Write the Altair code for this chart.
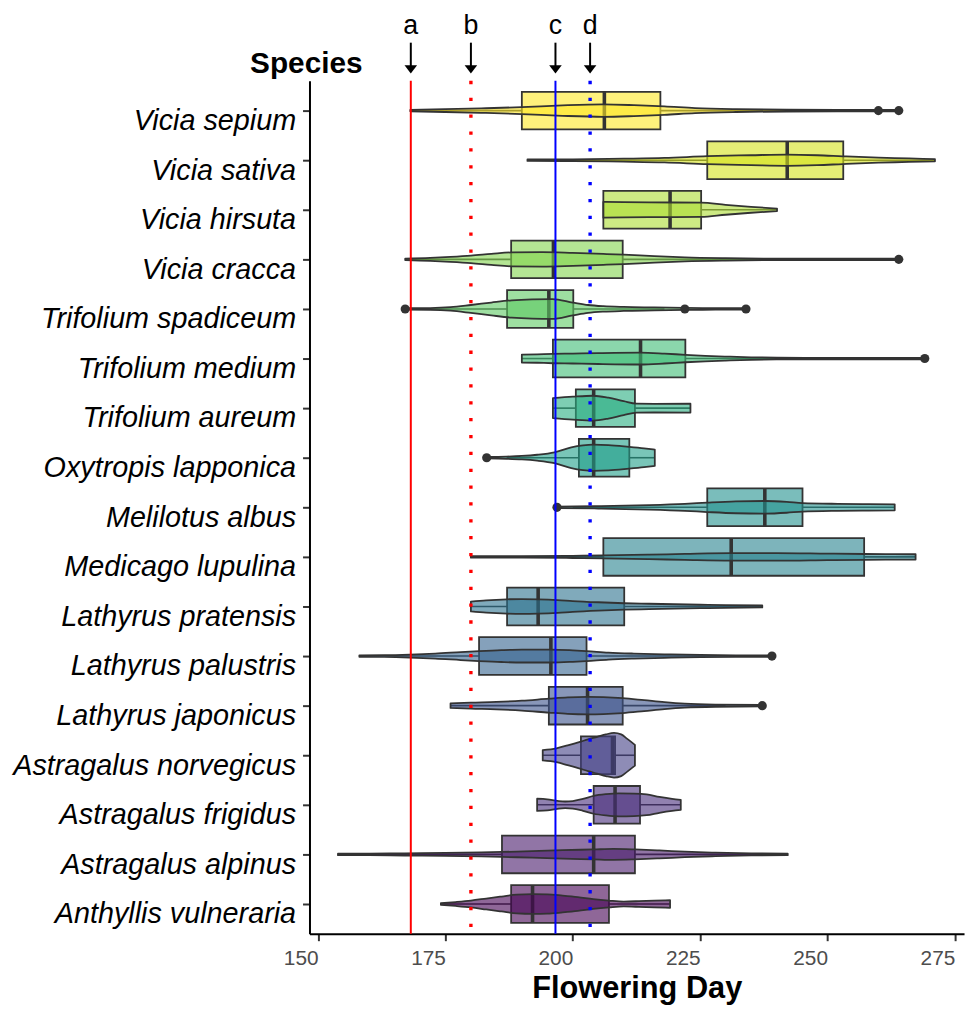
import altair as alt
import pandas as pd

# ---------------- data ----------------
species = [
    "Vicia sepium", "Vicia sativa", "Vicia hirsuta", "Vicia cracca",
    "Trifolium spadiceum", "Trifolium medium", "Trifolium aureum",
    "Oxytropis lapponica", "Melilotus albus", "Medicago lupulina",
    "Lathyrus pratensis", "Lathyrus palustris", "Lathyrus japonicus",
    "Astragalus norvegicus", "Astragalus frigidus", "Astragalus alpinus",
    "Anthyllis vulneraria",
]
q1 = [190.0, 226.4, 206.0, 187.9, 187.1, 196.1, 200.6, 201.2, 226.4, 206.0,
      187.1, 181.6, 195.3, 201.6, 204.1, 186.1, 187.9]
median = [206.2, 242.1, 219.1, 196.2, 195.3, 213.3, 204.1, 204.1, 237.7, 231.1,
          193.2, 195.7, 202.9, 207.8, 208.3, 204.1, 192.1]
q3 = [217.2, 253.1, 225.2, 209.8, 200.1, 222.1, 212.2, 211.1, 245.1, 257.2,
      210.1, 202.7, 209.8, 208.3, 213.2, 212.2, 207.1]
whisker_lo = [168.1, 191.1, 206.0, 167.1, 172.0, 190.0, 196.1, 187.0, 200.0, 180.0,
              180.0, 158.1, 176.0, 194.1, 193.0, 153.9, 174.1]
whisker_hi = [256.0, 271.1, 240.1, 240.0, 218.0, 258.0, 223.1, 216.1, 263.2, 267.3,
              237.2, 232.0, 230.0, 212.2, 221.2, 242.2, 219.1]

outlier_species = ["Vicia sepium", "Vicia sepium", "Vicia cracca",
                   "Trifolium spadiceum", "Trifolium spadiceum", "Trifolium spadiceum",
                   "Trifolium medium", "Oxytropis lapponica", "Melilotus albus",
                   "Lathyrus palustris", "Lathyrus japonicus"]
outlier_day = [260.0, 264.0, 264.0, 167.1, 222.0, 234.0, 269.1, 183.1, 196.9, 239.1, 237.2]

# violin outlines: flowering day and half-width (in rows)
violin_day = [
    [168.1, 175, 182, 190, 198, 206, 212, 218, 224, 232, 242, 252, 264.0],
    [191.1, 200, 210, 218, 226.4, 235, 242, 248, 253, 260, 266, 271.1],
    [206.0, 210, 215, 220, 225.2, 230, 235, 240.1],
    [167.1, 172, 176, 180, 184, 188, 194, 200, 206, 210, 216, 222, 230, 240, 252, 264.0],
    [167.1, 172, 176, 180, 184, 188, 192, 196, 200, 203, 206, 210, 216, 222, 228, 234.0],
    [190.0, 193, 196.1, 200, 205, 213.3, 218, 222.1, 226, 230, 235, 240, 250, 260, 269.1],
    [196.1, 200, 204, 207, 210, 212.5, 216, 223.1],
    [183.1, 187, 190, 193, 196.4, 199.7, 202, 204, 207, 211, 214, 216.1],
    [196.9, 205, 215, 222, 226.4, 232, 237.7, 242, 245.1, 252, 258, 263.2],
    [180.0, 190, 200, 206, 215, 222, 231.1, 240, 250, 257.2, 263, 267.3],
    [180.0, 183, 187.1, 190, 193.2, 197, 200, 205, 210.1, 215, 220, 225, 230, 237.2],
    [158.1, 163, 168, 173, 178, 181.6, 186, 190, 195.7, 200, 202.7, 207, 212, 218, 225, 232, 239.1],
    [176.0, 180, 185, 190, 195.3, 199, 202.9, 206, 209.8, 214, 218, 222, 228, 237.2],
    [194.1, 196.8, 199, 201.4, 203, 204.8, 206.5, 208.1, 209.5, 210.7, 212.2],
    [193.0, 195, 197, 198.5, 200, 202, 204.1, 206.5, 209, 212, 214.5, 217, 219.5, 221.2],
    [153.9, 160, 167, 175, 182, 186.1, 192, 198, 204.1, 208, 212.2, 217, 222, 228, 235, 242.2],
    [174.1, 177, 180, 183, 186, 189, 192.2, 195, 198, 201, 204, 207.1, 210, 213, 216, 219.1],
]
violin_half = [
    [0.015, 0.028, 0.045, 0.07, 0.105, 0.125, 0.11, 0.085, 0.05, 0.028, 0.018, 0.015, 0.015],
    [0.015, 0.017, 0.03, 0.045, 0.08, 0.1, 0.113, 0.1, 0.078, 0.05, 0.035, 0.022],
    [0.16, 0.155, 0.15, 0.147, 0.145, 0.1, 0.06, 0.025],
    [0.015, 0.03, 0.05, 0.075, 0.11, 0.14, 0.145, 0.13, 0.11, 0.095, 0.065, 0.04, 0.024, 0.016, 0.015, 0.015],
    [0.015, 0.018, 0.035, 0.08, 0.13, 0.175, 0.195, 0.2, 0.13, 0.08, 0.055, 0.04, 0.03, 0.02, 0.015, 0.015],
    [0.08, 0.085, 0.095, 0.1, 0.11, 0.12, 0.1, 0.075, 0.055, 0.04, 0.025, 0.018, 0.015, 0.015, 0.015],
    [0.2, 0.23, 0.25, 0.21, 0.14, 0.09, 0.088, 0.09],
    [0.015, 0.022, 0.035, 0.06, 0.11, 0.21, 0.25, 0.265, 0.255, 0.22, 0.19, 0.165],
    [0.015, 0.025, 0.045, 0.07, 0.095, 0.12, 0.127, 0.11, 0.085, 0.07, 0.065, 0.06],
    [0.015, 0.016, 0.022, 0.03, 0.045, 0.06, 0.075, 0.075, 0.065, 0.058, 0.055, 0.053],
    [0.1, 0.125, 0.145, 0.15, 0.145, 0.13, 0.11, 0.085, 0.065, 0.055, 0.045, 0.035, 0.028, 0.02],
    [0.015, 0.018, 0.03, 0.05, 0.08, 0.1, 0.12, 0.13, 0.13, 0.115, 0.1, 0.07, 0.05, 0.035, 0.022, 0.016, 0.015],
    [0.045, 0.06, 0.075, 0.1, 0.14, 0.165, 0.175, 0.17, 0.15, 0.11, 0.07, 0.04, 0.022, 0.015],
    [0.105, 0.14, 0.2, 0.27, 0.32, 0.37, 0.42, 0.45, 0.42, 0.33, 0.21],
    [0.123, 0.11, 0.08, 0.067, 0.075, 0.12, 0.18, 0.215, 0.233, 0.228, 0.21, 0.16, 0.12, 0.1],
    [0.015, 0.016, 0.022, 0.03, 0.04, 0.05, 0.065, 0.085, 0.1, 0.11, 0.1, 0.08, 0.055, 0.035, 0.02, 0.015],
    [0.015, 0.04, 0.07, 0.11, 0.15, 0.19, 0.2, 0.195, 0.17, 0.14, 0.1, 0.07, 0.05, 0.058, 0.07, 0.077],
]

line_label = ["a", "b", "c", "d"]
line_day = [168.2, 180.0, 196.6, 203.4]
line_color = ["#FF0000", "#FF0000", "#0000FF", "#0000FF"]
line_style = ["solid", "dotted", "solid", "dotted"]

x_ticks = [150, 175, 200, 225, 250, 275]

# ---------------- tables ----------------
n = len(species)
BOX_HALF = 0.38
box_df = pd.DataFrame({
    "species": species,
    "idx": list(range(n)),
    "cidx": [n - 1 - i for i in range(n)],
    "q1": q1, "median": median, "q3": q3,
    "lo": whisker_lo, "hi": whisker_hi,
})
box_df["top"] = box_df["idx"] - BOX_HALF
box_df["bottom"] = box_df["idx"] + BOX_HALF

rows = []
for i, sp in enumerate(species):
    for d, h in zip(violin_day[i], violin_half[i]):
        rows.append({"species": sp, "idx": i, "cidx": n - 1 - i, "day": d,
                     "ylo": i - h, "yhi": i + h})
violin_df = pd.DataFrame(rows)

out_df = pd.DataFrame({"species": outlier_species, "day": outlier_day})
out_df["idx"] = [species.index(s) for s in outlier_species]

lines_df = pd.DataFrame({"label": line_label, "day": line_day,
                         "color": line_color, "style": line_style})
lines_df["width"] = [2.0 if s == "solid" else 3.4 for s in line_style]

# ---------------- scales / axes ----------------
FONT = "Liberation Sans"
xscale = alt.Scale(domain=[148.31, 276.81], nice=False, zero=False)
yscale = alt.Scale(domain=[-0.6, n - 0.4], reverse=True, nice=False, zero=False)
cscale = alt.Scale(scheme="viridis", domain=[0, n - 1])

label_expr = "[" + ",".join("'" + s + "'" for s in species) + "][datum.value]"

xaxis = alt.Axis(
    values=x_ticks, grid=False, title="Flowering Day",
    labelAlign="right", labelFontSize=21, labelColor="#4D4D4D", labelFont=FONT,
    labelPadding=7, labelFlush=False, labelOverlap=False,
    tickSize=7, tickWidth=2, tickColor="#333333",
    domainColor="#000000", domainWidth=2,
    titleFont=FONT, titleFontSize=31, titleFontWeight="bold", titleColor="#000000",
    titleBaseline="alphabetic", titleY=64,
)
yaxis = alt.Axis(
    values=list(range(n)), labelExpr=label_expr, grid=False, title="Species",
    labelFont=FONT, labelFontSize=29, labelFontStyle="italic", labelColor="#000000",
    labelBaseline="top", labelOffset=-4, labelPadding=7, labelLimit=500,
    labelFlush=False, labelOverlap=False,
    tickSize=7, tickWidth=2, tickColor="#333333",
    domainColor="#000000", domainWidth=2,
    titleFont=FONT, titleFontSize=30, titleFontWeight="bold", titleColor="#000000",
    titleAngle=0, titleAlign="right", titleBaseline="alphabetic", titleX=53, titleY=-8,
)


def X(field):
    return alt.X(field, type="quantitative", scale=xscale, axis=xaxis)


def Y(field):
    return alt.Y(field, type="quantitative", scale=yscale, axis=yaxis)


color = alt.Color("cidx:Q", scale=cscale, legend=None)

boxes = alt.Chart(box_df).mark_rect(
    fillOpacity=0.6, stroke="#333333", strokeWidth=1.8
).encode(x=X("q1"), x2="q3:Q", y=Y("top"), y2="bottom:Q", color=color)

medians = alt.Chart(box_df).mark_rule(color="#333333", strokeWidth=3.6).encode(
    x=X("median"), y=Y("top"), y2="bottom:Q"
)

whisker_low = alt.Chart(box_df).mark_rule(color="#333333", strokeWidth=1.6).encode(
    x=X("lo"), x2="q1:Q", y=Y("idx")
)
whisker_high = alt.Chart(box_df).mark_rule(color="#333333", strokeWidth=1.6).encode(
    x=X("q3"), x2="hi:Q", y=Y("idx")
)

violins = alt.Chart(violin_df).mark_area(
    orient="vertical", interpolate="monotone", fillOpacity=0.6,
    stroke="#333333", strokeWidth=1.8, strokeJoin="round",
).encode(x=X("day"), y=Y("yhi"), y2="ylo:Q", color=color, detail="species:N")

outliers = alt.Chart(out_df).mark_circle(size=85, color="#333333", opacity=1).encode(
    x=X("day"), y=Y("idx")
)

vlines = alt.Chart(lines_df).mark_rule().encode(
    x=X("day"),
    color=alt.Color("color:N", scale=None, legend=None),
    strokeWidth=alt.StrokeWidth("width:Q", scale=None, legend=None),
    strokeDash=alt.StrokeDash(
        "style:N",
        scale=alt.Scale(domain=["solid", "dotted"], range=[[1, 0], [3.3, 13.7]]),
        legend=None,
    ),
)

shafts = alt.Chart(lines_df).mark_rule(color="#000000", strokeWidth=2).encode(
    x=X("day"), y=alt.value(-38.5), y2=alt.value(-14)
)

heads = alt.Chart(lines_df).mark_point(
    shape="M -1 -1.3 L 0 0 L 1 -1.3 Z", filled=True, color="#000000",
    size=160, opacity=1, strokeWidth=0,
).encode(x=X("day"), y=alt.value(-7.5))

letters = alt.Chart(lines_df).mark_text(
    font=FONT, fontSize=27, baseline="alphabetic", color="#000000"
).encode(x=X("day"), y=alt.value(-47), text="label:N")

chart = alt.layer(
    boxes, medians, whisker_low, whisker_high, violins, outliers, vlines,
    shafts, heads, letters
).properties(
    width=660, height=860, background="#FFFFFF",
    autosize=alt.AutoSizeParams(type="none"),
    padding={"left": 304, "top": 69.3, "right": 4, "bottom": 71},
).configure_view(strokeWidth=0)

chart.save("out.html", embed_options={"renderer": "svg", "actions": False})
